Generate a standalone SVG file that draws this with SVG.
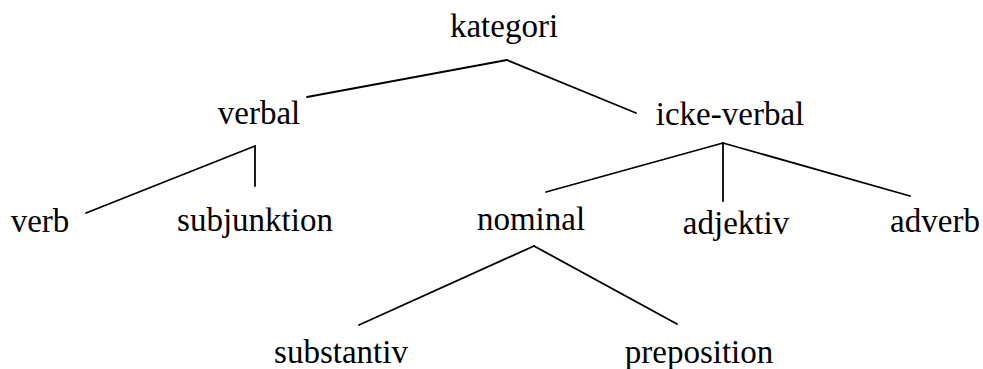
<svg xmlns="http://www.w3.org/2000/svg" width="983" height="369" viewBox="0 0 983 369">
<style>
text{font-family:"Liberation Serif","Times New Roman",serif;font-size:33px;fill:#000;text-anchor:middle}
.c line{stroke:#000;stroke-width:1.8;stroke-linecap:round}
</style>
<rect width="983" height="369" fill="#fff"/>
<g id="connectors" class="c">
<line x1="507" y1="60" x2="307" y2="97"/>
<line x1="507" y1="60" x2="636" y2="113"/>
<line x1="255" y1="146" x2="86" y2="213"/>
<line x1="255" y1="146" x2="255" y2="186"/>
<line x1="723" y1="143" x2="546" y2="192"/>
<line x1="723" y1="143" x2="723" y2="201"/>
<line x1="723" y1="143" x2="910" y2="196"/>
<line x1="534" y1="246" x2="359" y2="325"/>
<line x1="534" y1="246" x2="677" y2="324"/>
</g>
<g id="kategori"><text x="504" y="37">kategori</text></g>
<g id="verbal"><text x="259" y="124">verbal</text></g>
<g id="icke-verbal"><text x="730" y="125">icke-verbal</text></g>
<g id="verb"><text x="40" y="232">verb</text></g>
<g id="subjunktion"><text x="255" y="231">subjunktion</text></g>
<g id="nominal"><text x="531" y="230">nominal</text></g>
<g id="adjektiv"><text x="736" y="234">adjektiv</text></g>
<g id="adverb"><text x="935" y="232">adverb</text></g>
<g id="substantiv"><text x="341" y="363">substantiv</text></g>
<g id="preposition"><text x="699" y="363">preposition</text></g>
</svg>
